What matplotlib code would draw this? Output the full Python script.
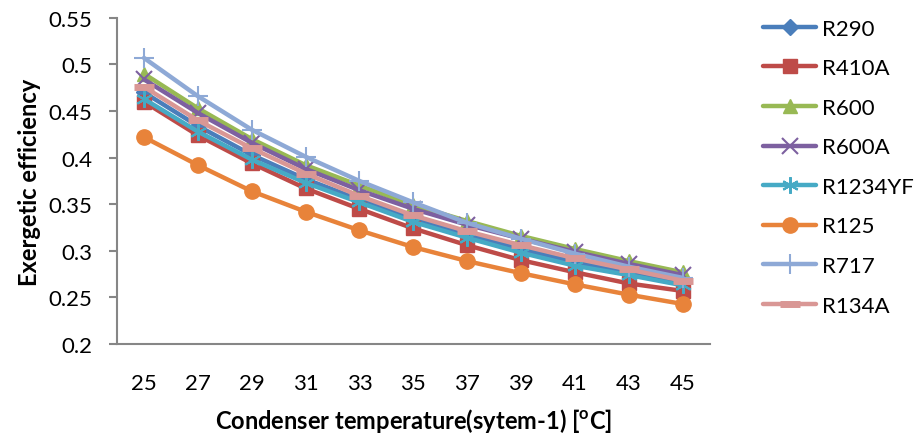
import numpy as np
import matplotlib
matplotlib.use("Agg")
import matplotlib.pyplot as plt

plt.rcParams['font.family'] = ['Lato', 'DejaVu Sans']
plt.rcParams['mathtext.fontset'] = 'custom'
plt.rcParams['mathtext.rm'] = 'Lato'
plt.rcParams['mathtext.bf'] = 'Lato:bold'

temps = [25, 27, 29, 31, 33, 35, 37, 39, 41, 43, 45]

r290 = [0.470, 0.434, 0.403, 0.377, 0.355, 0.334, 0.317, 0.302, 0.288, 0.276, 0.265]
r410a = [0.460, 0.424, 0.394, 0.367, 0.345, 0.324, 0.306, 0.290, 0.277, 0.265, 0.257]
r600 = [0.490, 0.453, 0.420, 0.392, 0.370, 0.349, 0.332, 0.316, 0.302, 0.289, 0.277]
r600a = [0.484, 0.448, 0.416, 0.388, 0.365, 0.345, 0.328, 0.313, 0.299, 0.286, 0.274]
r1234yf = [0.463, 0.428, 0.398, 0.373, 0.352, 0.331, 0.314, 0.298, 0.284, 0.274, 0.263]
r125 = [0.422, 0.392, 0.364, 0.342, 0.322, 0.304, 0.289, 0.276, 0.264, 0.253, 0.243]
r717 = [0.507, 0.466, 0.430, 0.401, 0.375, 0.352, 0.330, 0.313, 0.297, 0.283, 0.271]
r134a = [0.476, 0.440, 0.410, 0.383, 0.359, 0.338, 0.321, 0.306, 0.292, 0.280, 0.268]

names = ['R290', 'R410A', 'R600', 'R600A', 'R1234YF', 'R125', 'R717', 'R134A']
series = [r290, r410a, r600, r600a, r1234yf, r125, r717, r134a]

# excel 2007 style colours and markers
colors = ['#4A7EBB', '#BE4B48', '#98B954', '#7D60A0', '#46AAC5', '#E8833A', '#8EA9D6', '#D99795']
markers = ['D', 's', '^', 'x', (6, 2, 0), 'o', '+', '_']
msizes = [8, 10, 10, 11, 12, 11, 14, 14]
mews = [1, 1, 1, 1.5, 1.5, 1, 1.5, 5]

fig = plt.figure(figsize=(9.18, 4.39), dpi=100)
ax = fig.add_axes([0.1275, 0.214, 0.6455, 0.743])

x = np.arange(len(temps))
for vals, name, c, m, ms, mew in zip(series, names, colors, markers, msizes, mews):
    ax.plot(x, vals, color=c, lw=3.2, marker=m, markersize=ms,
            markerfacecolor=c, markeredgecolor=c, markeredgewidth=mew,
            label=name, solid_capstyle='round')

ax.set_xlim(-0.5, len(temps) - 0.5)
ax.set_ylim(0.2, 0.55)
ax.set_yticks(np.arange(0.2, 0.5501, 0.05))
ax.set_yticklabels(['0.2', '0.25', '0.3', '0.35', '0.4', '0.45', '0.5', '0.55'])
ax.set_xticks(x)
ax.set_xticklabels([str(t) for t in temps])

for s in ['top', 'right']:
    ax.spines[s].set_visible(False)
for s in ['left', 'bottom']:
    ax.spines[s].set_color('#868686')
    ax.spines[s].set_linewidth(1.5)
ax.tick_params(axis='y', direction='out', length=6, width=1.5, color='#868686',
               labelsize=16, pad=12)
ax.tick_params(axis='x', length=0, labelsize=16, pad=21)

ax.set_ylabel('Exergetic efficiency', fontsize=17, fontweight='bold', labelpad=5)
ax.set_xlabel(r'Condenser temperature(sytem-1) [$^{\mathbf{o}}$C]', fontsize=17,
              fontweight='bold', labelpad=9)

leg = ax.legend(loc='upper left', bbox_to_anchor=(1.075, 1.025), frameon=False,
                fontsize=16, handlelength=2.4, labelspacing=0.88, handletextpad=0.25,
                borderaxespad=0)

fig.savefig('out.png', dpi=100)
